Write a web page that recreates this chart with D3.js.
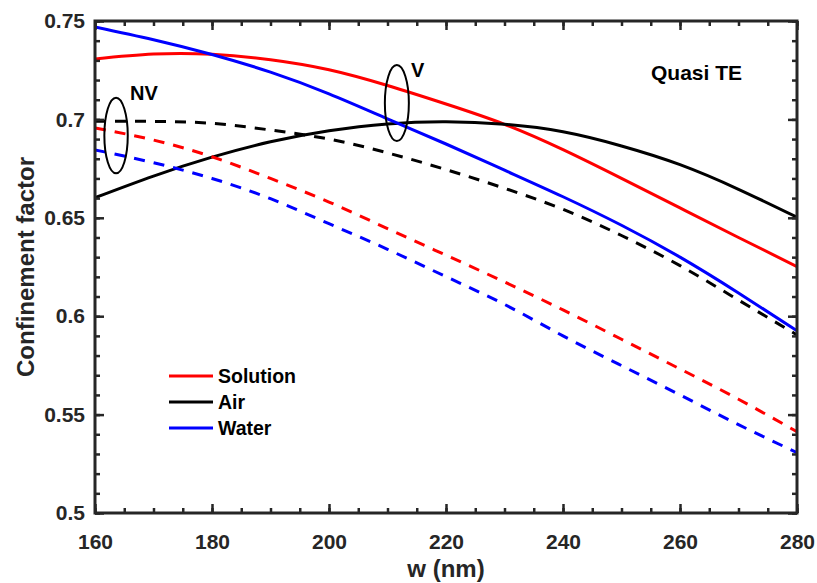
<!DOCTYPE html>
<html>
<head>
<meta charset="utf-8">
<script src="https://cdn.jsdelivr.net/npm/d3@7"></script>
<style>
  html, body { margin: 0; padding: 0; background: #fff; }
  svg { display: block; font-family: "Liberation Sans", Arial, sans-serif; }
</style>
</head>
<body>
<svg id="chart" width="817" height="583"></svg>
<script>
// ---- data ----
const widths = [160, 170, 180, 190, 200, 210, 220, 230, 240, 250, 260, 270, 280];
const solutionV  = [0.7307, 0.7332, 0.7331, 0.7303, 0.7252, 0.7172, 0.7078, 0.6975, 0.6846, 0.6700, 0.6550, 0.6400, 0.6252];
const airV       = [0.6602, 0.6712, 0.6808, 0.6886, 0.6942, 0.6977, 0.6988, 0.6975, 0.6937, 0.6865, 0.6770, 0.6645, 0.6503];
const waterV     = [0.7470, 0.7405, 0.7330, 0.7240, 0.7130, 0.7003, 0.6875, 0.6742, 0.6607, 0.6462, 0.6300, 0.6118, 0.5926];
const solutionNV = [0.6957, 0.6895, 0.6810, 0.6700, 0.6580, 0.6445, 0.6310, 0.6174, 0.6032, 0.5883, 0.5732, 0.5578, 0.5413];
const airNV      = [0.6990, 0.6990, 0.6980, 0.6946, 0.6900, 0.6830, 0.6745, 0.6650, 0.6543, 0.6410, 0.6257, 0.6082, 0.5905];
const waterNV    = [0.6845, 0.6780, 0.6700, 0.6597, 0.6470, 0.6340, 0.6201, 0.6060, 0.5900, 0.5749, 0.5600, 0.5449, 0.5307];
const xTicks = [160, 180, 200, 220, 240, 260, 280];
const yTicks = [0.5, 0.55, 0.6, 0.65, 0.7, 0.75];
const yTickLabels = ["0.5", "0.55", "0.6", "0.65", "0.7", "0.75"];
const legendNames = ["Solution", "Air", "Water"];
const seriesColors = ["#ff0000", "#000000", "#0000ff"];

// ---- layout ----
const svg = d3.select("#chart");
const L = 95, R = 797, T = 21, B = 513;
const x = d3.scaleLinear().domain([160, 280]).range([L, R]);
const y = d3.scaleLinear().domain([0.5, 0.75]).range([B, T]);
const axisColor = "#262626";

svg.append("defs").append("clipPath").attr("id", "clip")
  .append("rect").attr("x", L).attr("y", T).attr("width", R - L).attr("height", B - T);

const line = d3.line().x(d => x(d[0])).y(d => y(d[1])).curve(d3.curveNatural);

const series = [
  { v: solutionV, c: seriesColors[0], dash: null },
  { v: airV, c: seriesColors[1], dash: null },
  { v: waterV, c: seriesColors[2], dash: null },
  { v: airNV, c: seriesColors[1], dash: "11,9" },
  { v: solutionNV, c: seriesColors[0], dash: "11,9" },
  { v: waterNV, c: seriesColors[2], dash: "11,9" }
];
const gLines = svg.append("g").attr("clip-path", "url(#clip)");
series.forEach(s => {
  gLines.append("path")
    .datum(widths.map((w, i) => [w, s.v[i]]))
    .attr("d", line)
    .attr("fill", "none")
    .attr("stroke", s.c)
    .attr("stroke-width", 3)
    .attr("stroke-dasharray", s.dash);
});

// ---- axes (box with inward ticks on all sides) ----
function styleAxis(g) {
  g.select(".domain").remove();
  g.selectAll("line").attr("stroke", axisColor).attr("stroke-width", 2.5);
  g.selectAll("text").attr("fill", axisColor).attr("font-size", 21).attr("font-weight", "bold")
    .attr("font-family", "'Liberation Sans', Arial, sans-serif");
}
const xMinor = d3.range(160, 280.1, 5);
const yMinor = d3.range(0.5, 0.7501, 0.01);

// bottom
svg.append("g").attr("transform", `translate(0,${B})`)
  .call(d3.axisBottom(x).tickValues(xMinor).tickSize(-5).tickFormat(""))
  .call(styleAxis);
svg.append("g").attr("transform", `translate(0,${B})`)
  .call(d3.axisBottom(x).tickValues(xTicks).tickSize(-9).tickPadding(21).tickFormat(d3.format("d")))
  .call(styleAxis);
// top
svg.append("g").attr("transform", `translate(0,${T})`)
  .call(d3.axisTop(x).tickValues(xMinor).tickSize(-5).tickFormat(""))
  .call(styleAxis);
svg.append("g").attr("transform", `translate(0,${T})`)
  .call(d3.axisTop(x).tickValues(xTicks).tickSize(-9).tickFormat(""))
  .call(styleAxis);
// left
svg.append("g").attr("transform", `translate(${L},0)`)
  .call(d3.axisLeft(y).tickValues(yMinor).tickSize(-5).tickFormat(""))
  .call(styleAxis);
svg.append("g").attr("transform", `translate(${L},0)`)
  .call(d3.axisLeft(y).tickValues(yTicks).tickSize(-9).tickPadding(10)
    .tickFormat((d, i) => yTickLabels[i]))
  .call(styleAxis);
// right
svg.append("g").attr("transform", `translate(${R},0)`)
  .call(d3.axisRight(y).tickValues(yMinor).tickSize(-5).tickFormat(""))
  .call(styleAxis);
svg.append("g").attr("transform", `translate(${R},0)`)
  .call(d3.axisRight(y).tickValues(yTicks).tickSize(-9).tickFormat(""))
  .call(styleAxis);

// frame
svg.append("rect").attr("x", L).attr("y", T).attr("width", R - L).attr("height", B - T)
  .attr("fill", "none").attr("stroke", axisColor).attr("stroke-width", 3);

// axis titles
svg.append("text").attr("x", (L + R) / 2).attr("y", 577).attr("text-anchor", "middle")
  .attr("font-size", 24).attr("font-weight", "bold").attr("fill", axisColor).text("w (nm)");
svg.append("text").attr("transform", `translate(34,${(T + B) / 2}) rotate(-90)`)
  .attr("text-anchor", "middle").attr("font-size", 24).attr("font-weight", "bold")
  .attr("fill", axisColor).text("Confinement factor");

// legend
legendNames.forEach((n, i) => {
  const ly = 376 + i * 26;
  svg.append("line").attr("x1", 169).attr("x2", 213).attr("y1", ly).attr("y2", ly)
    .attr("stroke", seriesColors[i]).attr("stroke-width", 3);
  svg.append("text").attr("x", 218).attr("y", ly + 7).attr("font-size", 19.5)
    .attr("font-weight", "bold").attr("fill", "#000").text(n);
});

// annotations
svg.append("text").attr("x", 651).attr("y", 80).attr("font-size", 21).attr("font-weight", "bold")
  .attr("fill", "#000").text("Quasi TE");
svg.append("ellipse").attr("cx", x(163.6)).attr("cy", y(0.6918)).attr("rx", 11.7).attr("ry", 37.8)
  .attr("fill", "none").attr("stroke", "#000").attr("stroke-width", 2);
svg.append("text").attr("x", 130).attr("y", 99.5).attr("font-size", 20).attr("font-weight", "bold")
  .attr("fill", "#000").text("NV");
svg.append("ellipse").attr("cx", x(211.6)).attr("cy", y(0.7083)).attr("rx", 12).attr("ry", 38)
  .attr("fill", "none").attr("stroke", "#000").attr("stroke-width", 2);
svg.append("text").attr("x", 411).attr("y", 77).attr("font-size", 20).attr("font-weight", "bold")
  .attr("fill", "#000").text("V");
</script>
</body>
</html>
